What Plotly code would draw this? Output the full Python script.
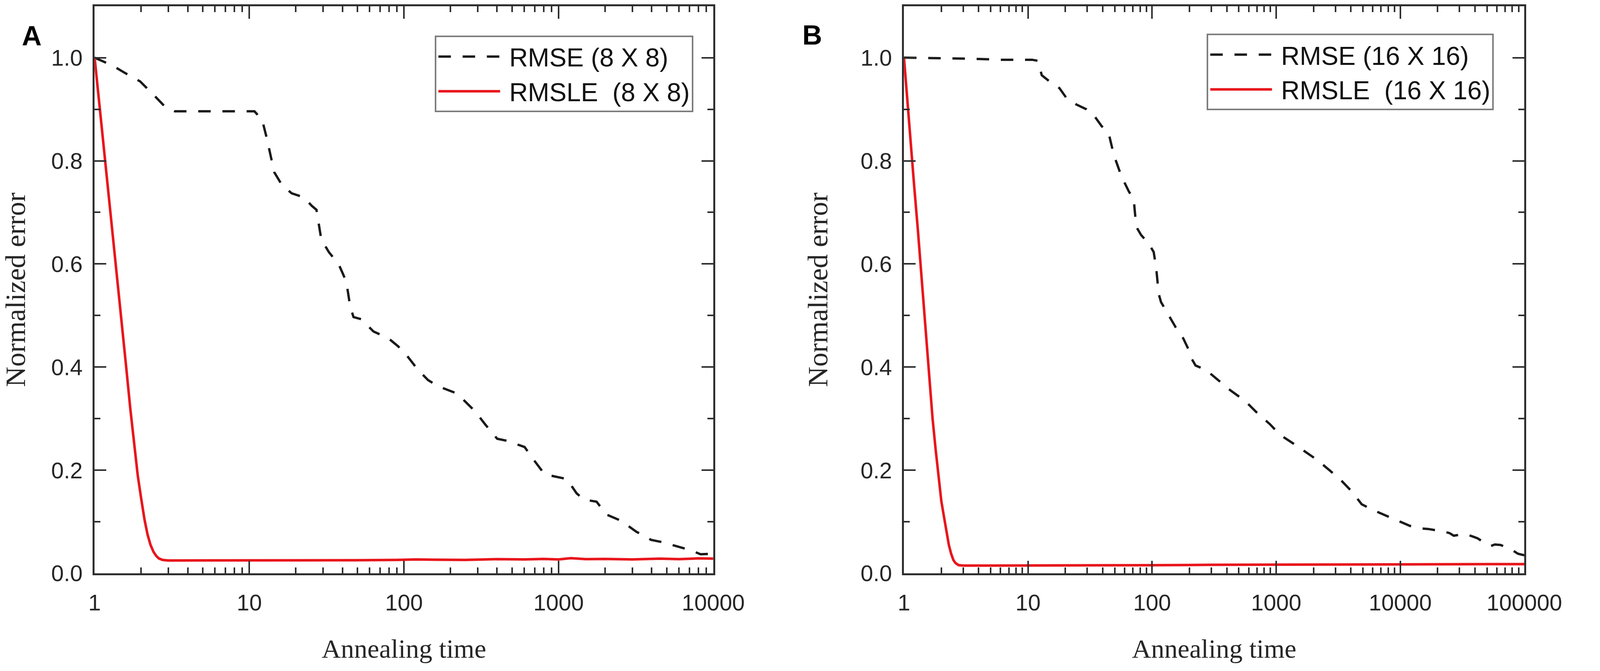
import plotly.graph_objects as go

# panel A: 8 X 8
a_rmse_t = [1, 1.3, 1.58, 1.97, 2.46, 2.85, 3.3, 5, 8, 10.8, 12.1, 13.0, 14.5, 16.2, 18.8,
            22.6, 25.3, 27.2, 29.2, 32.7, 37.9, 42.4, 44.9, 47.2, 52.8, 63.6, 79.3, 91.9,
            106, 123, 143, 166, 215, 240, 289, 335, 401, 465, 603, 675, 813, 975, 1130,
            1310, 1460, 1760, 2040, 2540, 3170, 3960, 4590, 5730, 7140, 8280, 10000]
a_rmse = [1.0, 0.985, 0.970, 0.954, 0.925, 0.905, 0.896, 0.896, 0.896, 0.896, 0.880, 0.843,
          0.778, 0.754, 0.737, 0.729, 0.713, 0.705, 0.648, 0.623, 0.599, 0.566, 0.518, 0.497,
          0.493, 0.469, 0.456, 0.440, 0.420, 0.395, 0.375, 0.363, 0.350, 0.338, 0.314, 0.289,
          0.261, 0.257, 0.245, 0.224, 0.192, 0.187, 0.183, 0.155, 0.143, 0.139, 0.114, 0.102,
          0.081, 0.065, 0.061, 0.053, 0.045, 0.037, 0.038]

a_rmsle_t = [1, 1.1, 1.2, 1.3, 1.4, 1.5, 1.6, 1.7, 1.8, 1.9, 2.0, 2.1, 2.2, 2.3, 2.4, 2.5,
             2.6, 2.75, 3.0, 4, 6, 10, 20, 50, 90, 120, 160, 250, 400, 600, 800, 1000,
             1200, 1500, 2000, 3000, 4500, 6000, 8000, 10000]
a_rmsle = [1.0, 0.88, 0.77, 0.66, 0.57, 0.48, 0.40, 0.32, 0.25, 0.19, 0.145, 0.105, 0.075,
           0.055, 0.042, 0.034, 0.029, 0.026, 0.025, 0.025, 0.0245, 0.025, 0.025, 0.0255,
           0.026, 0.027, 0.0265, 0.026, 0.0275, 0.027, 0.028, 0.027, 0.0295, 0.0275, 0.028,
           0.027, 0.0285, 0.0275, 0.029, 0.0285]

# panel B: 16 X 16
b_rmse_t = [1, 2, 3.56, 6, 10.8, 12.0, 12.9, 14.9, 17.9, 20.5, 24.6, 29.5, 34.0, 39.0, 44.8,
            49.2, 56.6, 64.8, 71.1, 74.5, 81.6, 93.6, 103, 108, 113, 118, 135, 155, 178,
            195, 204, 224, 270, 339, 427, 564, 710, 893, 1070, 1350, 1700, 2140, 2690, 3380,
            4060, 4890, 6140, 7380, 9700, 10640, 12000, 13400, 15000, 16900, 19500, 22300,
            25000, 27000, 30500, 34000, 38800, 42000, 46600, 53600, 58000, 64300, 69000,
            74000, 80000, 89000, 100000]
b_rmse = [1.0, 0.999, 0.998, 0.996, 0.996, 0.994, 0.966, 0.954, 0.941, 0.921, 0.909, 0.900,
          0.888, 0.868, 0.852, 0.811, 0.770, 0.741, 0.725, 0.672, 0.656, 0.640, 0.623, 0.591,
          0.542, 0.526, 0.501, 0.477, 0.456, 0.436, 0.420, 0.403, 0.395, 0.375, 0.355, 0.334,
          0.310, 0.289, 0.269, 0.253, 0.236, 0.220, 0.200, 0.179, 0.159, 0.134, 0.122, 0.114,
          0.102, 0.098, 0.092, 0.090, 0.087, 0.086, 0.084, 0.081, 0.078, 0.073, 0.075, 0.076,
          0.071, 0.068, 0.061, 0.053, 0.056, 0.055, 0.052, 0.049, 0.045, 0.038, 0.035]

b_rmsle_t = [1, 1.1, 1.2, 1.3, 1.4, 1.5, 1.6, 1.7, 1.8, 1.9, 2.0, 2.1, 2.2, 2.3, 2.4, 2.5,
             2.6, 2.75, 3.0, 5, 10, 30, 100, 300, 1000, 3000, 10000, 30000, 100000]
b_rmsle = [1.0, 0.87, 0.76, 0.66, 0.56, 0.46, 0.375, 0.30, 0.24, 0.185, 0.14, 0.11, 0.08,
           0.055, 0.038, 0.026, 0.02, 0.016, 0.015, 0.015, 0.015, 0.0152, 0.0158, 0.0165,
           0.017, 0.0175, 0.018, 0.018, 0.018]

x_ticks_a = [1, 10, 100, 1000, 10000]
x_ticks_b = [1, 10, 100, 1000, 10000, 100000]
y_ticks = [0.0, 0.2, 0.4, 0.6, 0.8, 1.0]

BLACK = "#1a1a1a"
RED = "#e8161c"
AXIS = "#2e2e2e"
TEXT = "#262626"
SANS = "Arial, Liberation Sans, sans-serif"
SERIF = "Times New Roman, Liberation Serif, serif"
DASH = "32px,30px"
NB = "\u00a0"  # small gap between legend line and text

fig = go.Figure()
fig.add_trace(go.Scatter(x=a_rmse_t, y=a_rmse, name=NB + "RMSE (8 X 8)", mode="lines",
                         line=dict(color=BLACK, width=6, dash=DASH),
                         xaxis="x", yaxis="y", legend="legend"))
fig.add_trace(go.Scatter(x=a_rmsle_t, y=a_rmsle, name=NB + "RMSLE" + NB + " (8 X 8)",
                         mode="lines", line=dict(color=RED, width=6.5),
                         xaxis="x", yaxis="y", legend="legend"))
fig.add_trace(go.Scatter(x=b_rmse_t, y=b_rmse, name=NB + "RMSE (16 X 16)", mode="lines",
                         line=dict(color=BLACK, width=6, dash=DASH),
                         xaxis="x2", yaxis="y2", legend="legend2"))
fig.add_trace(go.Scatter(x=b_rmsle_t, y=b_rmsle, name=NB + "RMSLE" + NB + " (16 X 16)",
                         mode="lines", line=dict(color=RED, width=6.5),
                         xaxis="x2", yaxis="y2", legend="legend2"))


def minor_log(ticks):
    vals = []
    for d in ticks[:-1]:
        vals += [d * k for k in range(2, 10)]
    return vals


def xaxis_style(ticks, domain, anchor):
    return dict(
        type="log", domain=domain, anchor=anchor,
        range=[0, len(ticks) - 1],
        tickmode="array", tickvals=ticks, ticktext=[str(t) for t in ticks],
        ticks="inside", ticklen=32, tickwidth=4, tickcolor=AXIS,
        minor=dict(tickmode="array", tickvals=minor_log(ticks), ticks="inside",
                   ticklen=15, tickwidth=3.5, tickcolor=AXIS, showgrid=False),
        showline=True, linewidth=5, linecolor=AXIS, mirror="allticks",
        showgrid=False, zeroline=False,
        tickfont=dict(family=SANS, size=58, color=TEXT),
        ticklabelstandoff=20,
        title=dict(text="Annealing time", font=dict(family=SERIF, size=68, color=TEXT),
                   standoff=64),
    )


def yaxis_style(domain, anchor):
    return dict(
        domain=domain, anchor=anchor, range=[0, 1.1],
        tickmode="array", tickvals=y_ticks, ticktext=["%.1f" % v for v in y_ticks],
        ticks="inside", ticklen=30, tickwidth=4, tickcolor=AXIS,
        minor=dict(dtick=0.1, ticks="inside", ticklen=15, tickwidth=3.5, tickcolor=AXIS,
                   showgrid=False),
        showline=True, linewidth=5, linecolor=AXIS, mirror="allticks",
        showgrid=False, zeroline=False,
        tickfont=dict(family=SANS, size=58, color=TEXT),
        ticklabelstandoff=14,
        title=dict(text="Normalized error", font=dict(family=SERIF, size=72, color=TEXT),
                   standoff=62),
    )


legend_common = dict(
    xanchor="left", yanchor="top", bgcolor="white",
    bordercolor="#7d7d7d", borderwidth=4,
    font=dict(family=SANS, size=66, color="#111111"),
    itemwidth=158, tracegroupgap=0,
)

fig.update_layout(
    width=4562, height=1717,
    margin=dict(l=0, r=0, t=0, b=0),
    paper_bgcolor="white", plot_bgcolor="white",
    xaxis=xaxis_style(x_ticks_a, [0.0568, 0.4544], "y"),
    yaxis=yaxis_style([0.1293, 0.9907], "x"),
    xaxis2=xaxis_style(x_ticks_b, [0.577, 0.9757], "y2"),
    yaxis2=yaxis_style([0.1293, 0.9907], "x2"),
    legend=dict(x=0.2755, y=0.9458, **legend_common),
    legend2=dict(x=0.7716, y=0.9487, **legend_common),
    annotations=[
        dict(text="<b>A</b>", x=0.0096, y=0.9697, xref="paper", yref="paper",
             showarrow=False, font=dict(family=SANS, size=70, color="black")),
        dict(text="<b>B</b>", x=0.518, y=0.9710, xref="paper", yref="paper",
             showarrow=False, font=dict(family=SANS, size=70, color="black")),
    ],
)

# fit the figure to the browser viewport
post = """
document.body.style.margin = '0';
document.body.style.overflow = 'hidden';
var gd = document.getElementById('{plot_id}');
Plotly.relayout(gd, {width: window.innerWidth, height: window.innerHeight});
"""

fig.write_html("out.html", post_script=post, config={"displayModeBar": False})
